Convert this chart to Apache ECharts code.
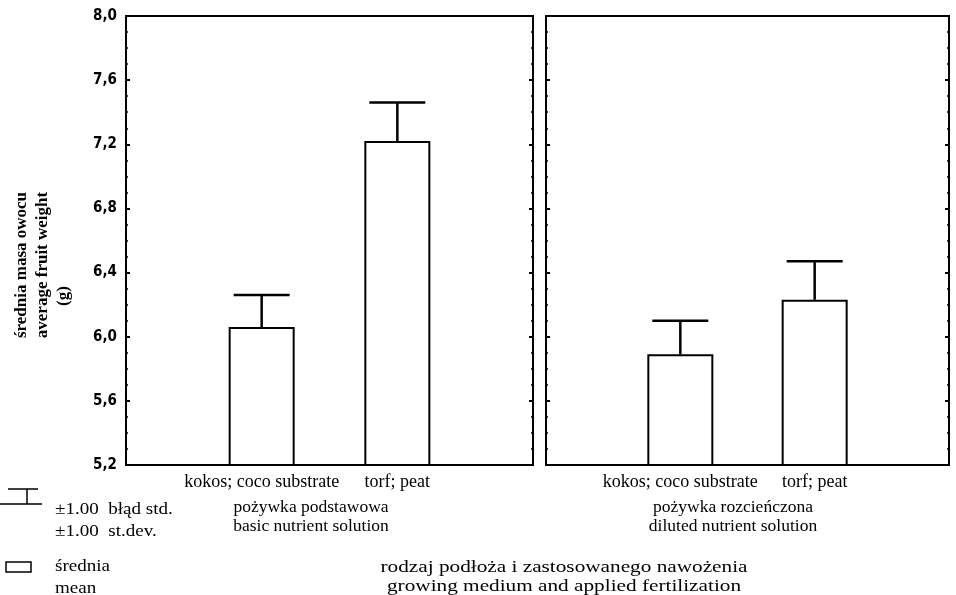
<!DOCTYPE html>
<html>
<head>
<meta charset="utf-8">
<script src="https://cdn.jsdelivr.net/npm/echarts@6/dist/echarts.min.js"></script>
<style>html,body{margin:0;padding:0;background:#fff}#c{width:956px;height:595px}</style>
</head>
<body>
<div id="c"></div>
<script>
// ---- data ----
const categories = ['kokos; coco substrate', 'torf; peat'];
const basicMeans = [6.06, 7.22];
const basicUpper = [6.26, 7.46];
const dilutedMeans = [5.89, 6.23];
const dilutedUpper = [6.10, 6.47];
const yTicks = [5.2, 5.6, 6.0, 6.4, 6.8, 7.2, 7.6, 8.0];
const groupTitlesPl = ['pożywka podstawowa', 'pożywka rozcieńczona'];
const groupTitlesEn = ['basic nutrient solution', 'diluted nutrient solution'];

const SERIF = '"Liberation Serif", "Times New Roman", serif';
const chart = echarts.init(document.getElementById('c'), null, {renderer: 'canvas'});

const yMin = yTicks[0], yMax = yTicks[yTicks.length - 1];
function yAxisDef(grid, pos, labels) {
  return {
    type: 'value', gridIndex: grid, position: pos, min: yMin, max: yMax, interval: 0.4,
    axisLine: {show: false},
    axisTick: {show: true, inside: true, length: 4, lineStyle: {color: '#000', width: 2}},
    minorTick: {show: true, splitNumber: 4, length: 2, lineStyle: {color: '#000', width: 1.5}},
    splitLine: {show: false},
    axisLabel: {show: labels, margin: 9, color: '#000', fontFamily: '"DejaVu Sans Condensed", "DejaVu Sans", sans-serif',
      fontWeight: 'bold', fontSize: 15,
      formatter: v => v.toFixed(1).replace('.', ',')}
  };
}
function xAxisDef(grid) {
  return {
    type: 'value', gridIndex: grid, min: 0, max: 3, interval: 1,
    axisLine: {show: false}, axisTick: {show: false}, splitLine: {show: false},
    axisLabel: {show: true, margin: 8, color: '#000', fontFamily: SERIF, fontSize: 18,
      formatter: v => (v === 1 ? categories[0] : v === 2 ? categories[1] : ''),
      showMinLabel: true, showMaxLabel: true}
  };
}
function barSeries(grid, yIdx, means) {
  return {
    type: 'bar', xAxisIndex: grid, yAxisIndex: yIdx, barWidth: 66, clip: true,
    data: means.map((m, i) => [i + 1, m]),
    itemStyle: {color: '#fff', borderColor: '#000', borderWidth: 2},
    silent: true, z: 3
  };
}
function errSeries(grid, yIdx, means, upper) {
  return {
    type: 'custom', xAxisIndex: grid, yAxisIndex: yIdx, z: 4, silent: true,
    data: means.map((m, i) => [i + 1, m, upper[i]]),
    renderItem: function (params, api) {
      const base = api.coord([api.value(0), api.value(1)]);
      const top = api.coord([api.value(0), api.value(2)]);
      const hw = 28;
      const st = {stroke: '#000', lineWidth: 2.5};
      return {type: 'group', children: [
        {type: 'line', shape: {x1: base[0], y1: base[1], x2: top[0], y2: top[1]}, style: st},
        {type: 'line', shape: {x1: top[0] - hw, y1: top[1], x2: top[0] + hw, y2: top[1]}, style: st}
      ]};
    }
  };
}

function txt(x, y, s, size, sx, align) {
  return {
    type: 'text', x: x, y: y, scaleX: sx || 1,
    style: {text: s, fill: '#000', font: size + 'px ' + SERIF, textAlign: align || 'center', textVerticalAlign: 'middle'}
  };
}
function vtxt(x, y, s) {
  return {type: 'text', x: x, y: y, rotation: Math.PI / 2,
    style: {text: s, fill: '#000', font: 'bold 17px ' + SERIF, textAlign: 'center', textVerticalAlign: 'middle'}};
}

const option = {
  animation: false,
  backgroundColor: '#fff',
  grid: [
    {left: 126, top: 16, width: 407, height: 449, show: true, borderColor: '#000', borderWidth: 2, backgroundColor: 'transparent'},
    {left: 546, top: 16, width: 403, height: 449, show: true, borderColor: '#000', borderWidth: 2, backgroundColor: 'transparent'}
  ],
  xAxis: [xAxisDef(0), xAxisDef(1)],
  yAxis: [yAxisDef(0, 'left', true), yAxisDef(0, 'right', false), yAxisDef(1, 'left', false), yAxisDef(1, 'right', false)],
  series: [
    barSeries(0, 0, basicMeans), errSeries(0, 0, basicMeans, basicUpper),
    barSeries(1, 2, dilutedMeans), errSeries(1, 2, dilutedMeans, dilutedUpper)
  ],
  graphic: [
    // y axis title
    vtxt(22, 265, 'średnia masa owocu'),
    vtxt(43, 265, 'average fruit weight'),
    vtxt(64, 296, '(g)'),
    // group titles
    txt(311, 508, groupTitlesPl[0], 17, 1.03),
    txt(311, 527, groupTitlesEn[0], 17, 1.03),
    txt(733, 508, groupTitlesPl[1], 17, 1.03),
    txt(733, 527, groupTitlesEn[1], 17, 1.03),
    // x axis title
    txt(564, 568, 'rodzaj podłoża i zastosowanego nawożenia', 17, 1.25),
    txt(564, 587, 'growing medium and applied fertilization', 17, 1.25),
    // legend symbols
    {type: 'line', shape: {x1: 8, y1: 489, x2: 38, y2: 489}, style: {stroke: '#000', lineWidth: 1.5}},
    {type: 'line', shape: {x1: 27, y1: 489, x2: 27, y2: 504}, style: {stroke: '#000', lineWidth: 1.5}},
    {type: 'line', shape: {x1: 0, y1: 504, x2: 42, y2: 504}, style: {stroke: '#000', lineWidth: 1.5}},
    {type: 'rect', shape: {x: 6, y: 562, width: 25, height: 10}, style: {fill: '#fff', stroke: '#000', lineWidth: 1.5}},
    // legend texts
    txt(55, 510, '±1.00  błąd std.', 17, 1.12, 'left'),
    txt(55, 532, '±1.00  st.dev.', 17, 1.12, 'left'),
    txt(55, 567, 'średnia', 17, 1.12, 'left'),
    txt(55, 589, 'mean', 17, 1.12, 'left')
  ]
};
chart.setOption(option);
</script>
</body>
</html>
